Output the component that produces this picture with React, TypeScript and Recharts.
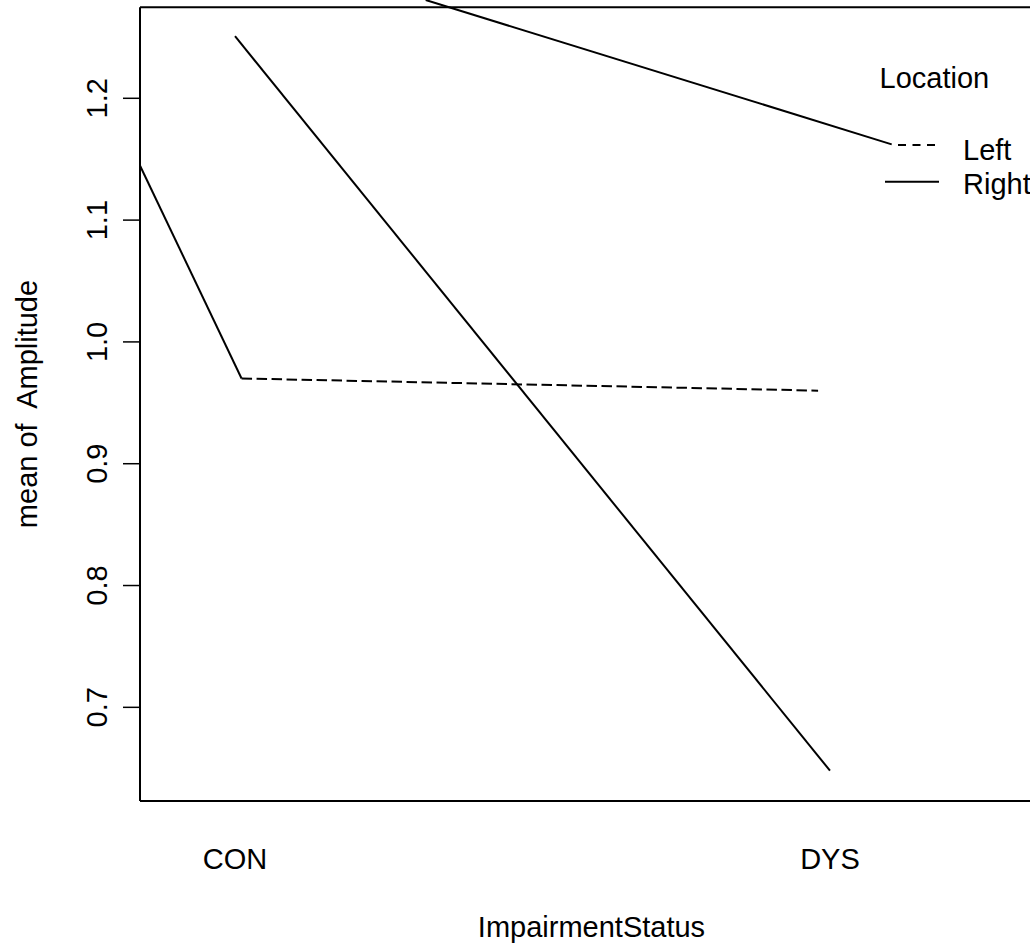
import { LineChart, Line, XAxis, YAxis, ReferenceLine, Label } from 'recharts';

const FONT = '"Liberation Sans", Arial, Helvetica, sans-serif';

// categories and their positions on the numeric x scale
const impairment = ['CON', 'DYS'];
const impairmentPos = [1, 2];

// mean of Amplitude by Location
const rightMeans = [1.251, 0.648];
const leftMeans = [0.97, 0.96];
const leftPos = [1.011, 1.98];

// two stray connector strokes visible in the picture
const strayLowX = [0.84, 1.011];
const strayLowY = [1.145, 0.97];
const strayHighX = [1.3205, 2.1037];
const strayHighY = [1.2807, 1.1622];

const yTicks = [0.7, 0.8, 0.9, 1.0, 1.1, 1.2];
const xDomain = [0.8403, 2.358];
const yDomain = [0.6231, 1.2807];
const boxTop = 1.2747;

const legendItems = [
  { name: 'Left', dash: '8 6.5' },
  { name: 'Right', dash: undefined as string | undefined },
];

const zip = (xs: number[], ys: number[]) => xs.map((x, i) => ({ x, y: ys[i] }));

const rightData = zip(impairmentPos, rightMeans);
const leftData = zip(leftPos, leftMeans);
const strayLow = zip(strayLowX, strayLowY);
const strayHigh = zip(strayHighX, strayHighY);

const XTick = (props: any) => {
  const { x, y, payload } = props;
  const i = impairmentPos.indexOf(payload.value);
  return (
    <text x={x} y={y + 68} textAnchor="middle" fontSize={29} fontFamily={FONT} fill="#000">
      {impairment[i]}
    </text>
  );
};

const YTick = (props: any) => {
  const { y, payload } = props;
  return (
    <text
      transform={`translate(107, ${y}) rotate(-90)`}
      textAnchor="middle"
      fontSize={29}
      fontFamily={FONT}
      fill="#000"
    >
      {Number(payload.value).toFixed(1)}
    </text>
  );
};

const XTitle = (props: any) => {
  const vb = props.viewBox || { x: 140, y: 801, width: 903 };
  return (
    <text x={vb.x + vb.width / 2} y={vb.y + 136} textAnchor="middle" fontSize={29} fontFamily={FONT} fill="#000">
      ImpairmentStatus
    </text>
  );
};

const YTitle = () => (
  <text
    transform="translate(37, 404) rotate(-90)"
    textAnchor="middle"
    fontSize={29}
    fontFamily={FONT}
    fill="#000"
    xmlSpace="preserve"
    style={{ whiteSpace: 'pre' }}
  >
    {'mean of  Amplitude'}
  </text>
);

export default function App() {
  return (
    <div style={{ position: 'absolute', left: 0, top: 0, width: 1030, height: 946, overflow: 'hidden', background: '#fff' }}>
      <LineChart width={1060} height={946} margin={{ top: 0, right: 17, bottom: 0, left: 0 }}>
        <XAxis
          type="number"
          dataKey="x"
          domain={xDomain}
          allowDataOverflow
          ticks={impairmentPos}
          interval={0}
          height={145}
          tickLine={false}
          tickSize={0}
          tickMargin={0}
          axisLine={{ stroke: '#000', strokeWidth: 2 }}
          tick={XTick}
        >
          <Label content={XTitle} />
        </XAxis>
        <YAxis
          type="number"
          dataKey="y"
          domain={yDomain}
          allowDataOverflow
          ticks={yTicks}
          interval={0}
          width={140}
          tickSize={17}
          axisLine={false}
          tickLine={{ stroke: '#000', strokeWidth: 1.5 }}
          tick={YTick}
        >
          <Label content={YTitle} />
        </YAxis>
        <ReferenceLine
          segment={[{ x: xDomain[0], y: yDomain[0] }, { x: xDomain[0], y: boxTop }]}
          stroke="#000"
          strokeWidth={2}
          ifOverflow="visible"
        />
        <ReferenceLine
          segment={[{ x: xDomain[0], y: boxTop }, { x: xDomain[1], y: boxTop }]}
          stroke="#000"
          strokeWidth={2}
          ifOverflow="visible"
        />
        <Line data={strayLow} dataKey="y" type="linear" stroke="#000" strokeWidth={2} dot={false} activeDot={false} isAnimationActive={false} />
        <Line data={strayHigh} dataKey="y" type="linear" stroke="#000" strokeWidth={2} dot={false} activeDot={false} isAnimationActive={false} />
        <Line data={leftData} dataKey="y" name="Left" type="linear" stroke="#000" strokeWidth={2} strokeDasharray="10.5 4.5" dot={false} activeDot={false} isAnimationActive={false} />
        <Line data={rightData} dataKey="y" name="Right" type="linear" stroke="#000" strokeWidth={2} dot={false} activeDot={false} isAnimationActive={false} />
      </LineChart>
      <svg width={1030} height={946} style={{ position: 'absolute', left: 0, top: 0, pointerEvents: 'none' }}>
        <text x={879.5} y={88.3} fontSize={29} fontFamily={FONT} fill="#000">Location</text>
        {legendItems.map((it, i) => (
          <g key={it.name}>
            {it.dash ? (
              <line x1={898} x2={937} y1={145} y2={145} stroke="#000" strokeWidth={2} strokeDasharray={it.dash} />
            ) : (
              <line x1={885} x2={939} y1={145 + 36.7 * i} y2={145 + 36.7 * i} stroke="#000" strokeWidth={2} />
            )}
            <text x={963} y={160 + 33.5 * i} fontSize={29} fontFamily={FONT} fill="#000">{it.name}</text>
          </g>
        ))}
      </svg>
    </div>
  );
}
